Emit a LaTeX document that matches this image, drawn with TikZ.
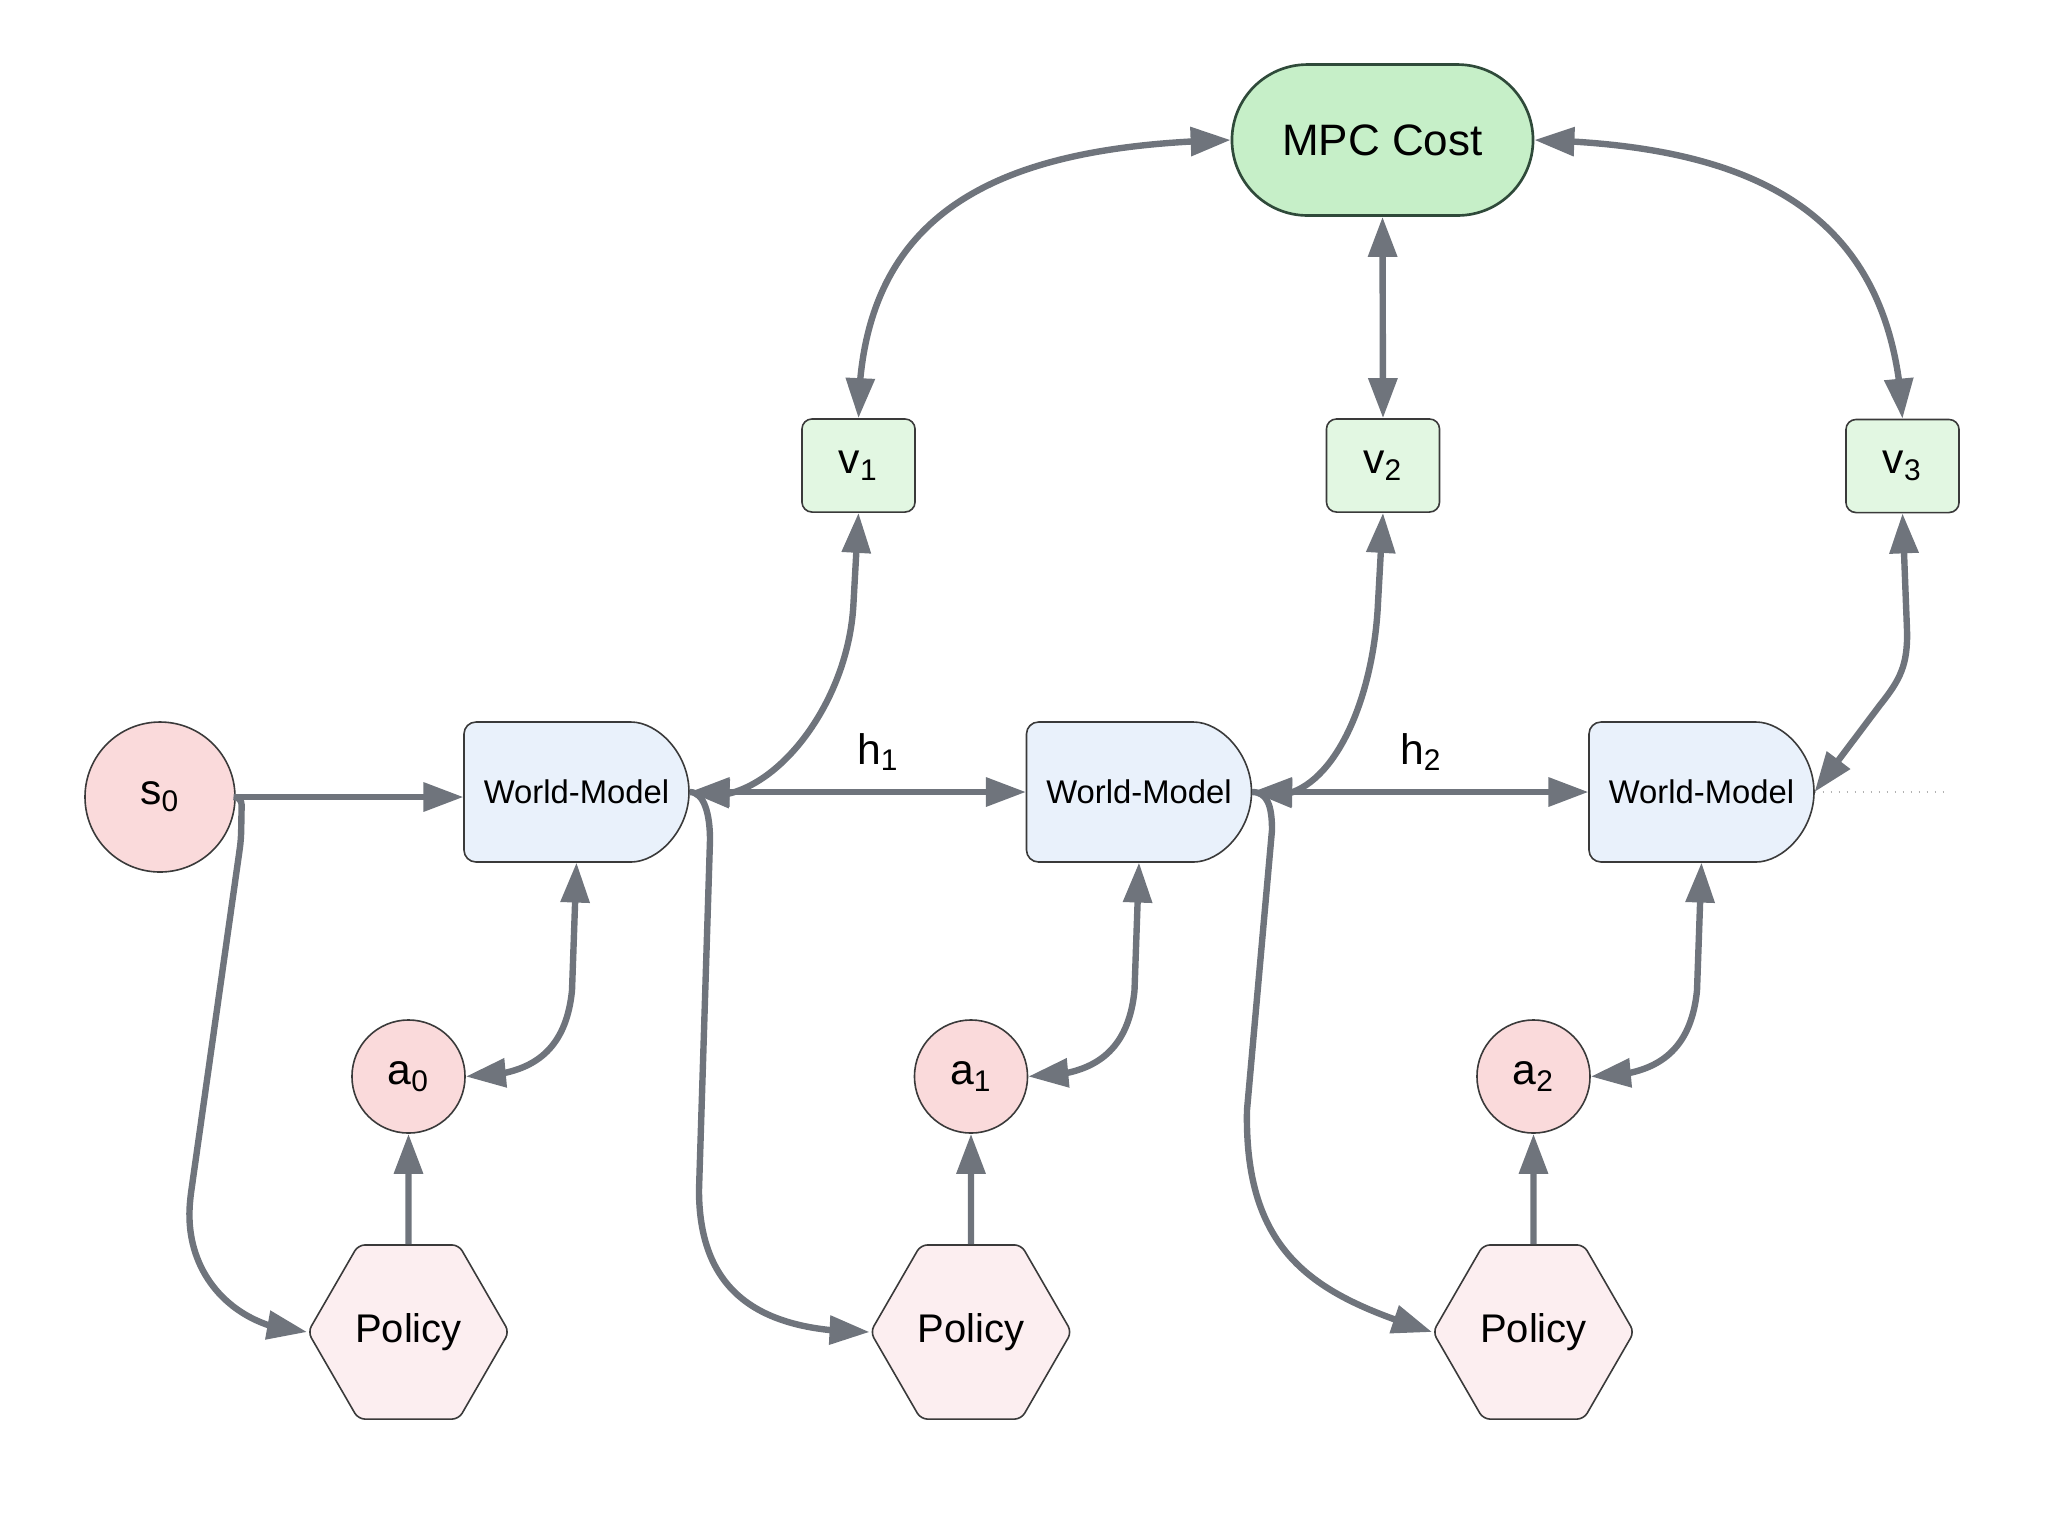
\documentclass[tikz,border=0pt]{standalone}
\usepackage{fontspec}
\setmainfont{Liberation Sans}
\usetikzlibrary{arrows.meta,bending,shapes.geometric,shapes.misc,calc}
\definecolor{arrowgray}{HTML}{6F747C}
\definecolor{edge}{HTML}{3A3A3A}
\definecolor{pinkA}{HTML}{FADADB}
\definecolor{pinkP}{HTML}{FCEEF0}
\definecolor{wmblue}{HTML}{E9F1FB}
\definecolor{vgreen}{HTML}{E2F7E2}
\definecolor{mpcgreen}{HTML}{C6EFC8}
\definecolor{mpcedge}{HTML}{2F4A3A}
\tikzset{
  >={Triangle[length=15pt,width=10.5pt]},
  arr/.style={draw=arrowgray, line width=2.4pt, ->},
  darr/.style={draw=arrowgray, line width=2.4pt, <->},
  statecirc/.style={circle, draw=edge, line width=0.6pt, fill=pinkA, inner sep=0pt, font=\fontsize{16}{18}\selectfont},
  policy/.style={regular polygon, regular polygon sides=6, minimum size=75.4pt, inner sep=0pt, draw=edge, line width=0.6pt, fill=pinkP, rounded corners=2.5pt, font=\fontsize{15}{18}\selectfont},
  vbox/.style={rectangle, rounded corners=3.75pt, draw=edge, line width=0.6pt, fill=vgreen, minimum width=42.4pt, minimum height=34.9pt, inner sep=0pt, font=\fontsize{16}{18}\selectfont},
  mpc/.style={rounded rectangle, draw=mpcedge, line width=1pt, fill=mpcgreen, minimum width=112.9pt, minimum height=56.6pt, inner sep=0pt, font=\fontsize{16.5}{20}\selectfont},
  wmshape/.style={draw=edge, line width=0.6pt, fill=wmblue, rounded corners=4.5pt},
  wmtext/.style={rectangle, minimum width=84.375pt, minimum height=52.5pt, inner sep=0pt, font=\fontsize{12.3}{14}\selectfont},
  lbl/.style={font=\fontsize{16}{18}\selectfont, inner sep=0pt},
  dotline/.style={draw=gray!60, line width=0.5pt, dash pattern=on 0.6pt off 2.4pt}
}
\newcommand\wmbox[3]{%
  \filldraw[wmshape] (#2-112.5,#3+70) -- (#2+42.5,#3+70) arc[start angle=90,end angle=-90,radius=26.25pt] -- (#2-112.5,#3-70) -- cycle;
  \node[wmtext] (#1) at (#2,#3) {World-Model};}
\begin{document}
\begin{tikzpicture}[x=0.375pt,y=0.375pt]
\useasboundingbox (0,0) rectangle (2066,-1513);
\wmbox{w1}{576.5}{-792}
\wmbox{w2}{1139}{-792}
\wmbox{w3}{1701.5}{-792}
\node[mpc] (mpc) at (1382.5,-140) {MPC Cost};
\node[vbox] (v1) at (858.5,-465.5) {v\textsubscript{1}};
\node[vbox] (v2) at (1383,-465.5) {v\textsubscript{2}};
\node[vbox] (v3) at (1902.5,-466) {v\textsubscript{3}};
\node[statecirc, minimum size=56.25pt] (s0) at (160,-797) {s\textsubscript{0}};
\foreach \i/\x in {0/408.5,1/971,2/1533.5} {
  \node[statecirc, minimum size=42.4pt] (a\i) at (\x,-1076.5) {a\textsubscript{\i}};
  \node[policy] (p\i) at (\x,-1332) {Policy};
}
\node[lbl] (h1) at (878,-752) {h\textsubscript{1}};
\node[lbl] (h2) at (1421,-752) {h\textsubscript{2}};
% connectors
\draw[arr] (s0.east) -- (s0.east -| w1.west);
\draw[arr, rounded corners=3pt] (s0.east) -- ++(6,0) -- (241,-840) -- (190,-1200) .. controls (186,-1280) and (240,-1330) .. (p0.west);
\foreach \i in {0,1,2} \draw[arr] (p\i.north) -- (a\i.south);
\foreach \i/\j in {0/1,1/2,2/3} \draw[darr] (w\j.south) -- ++(-4.5,-128) .. controls +(-7,-70) and +(55,0) .. (a\i.east);
\draw[darr] (w1.east) -- (w2.west);
\draw[darr] (w2.east) -- (w3.west);
\draw[darr] (v1.south) -- ++(-5,-90) .. controls +(-5,-110) and +(70,-25) .. (w1.east);
\draw[darr] (v2.south) -- ++(-5,-90) .. controls +(-5,-110) and +(70,-25) .. (w2.east);
\draw[darr] (v3.south) -- (1907,-630) .. controls (1908,-665) and (1900,-680) .. (1880,-705) -- (w3.east);
\draw[arr] (w1.east) .. controls +(15,0) and +(0,25) .. (710,-840) -- (699,-1190) .. controls +(0,-110) and +(-100,0) .. (p1.west);
\draw[arr] (w2.east) .. controls +(15,0) and +(0,25) .. (1272,-830) -- (1247,-1110) .. controls +(-3,-150) and +(-110,35) .. (p2.west);
\draw[darr] (mpc.west) .. controls +(-230,-5) and +(0,210) .. (v1.north);
\draw[darr] (mpc.east) .. controls +(230,-5) and +(-10,200) .. (v3.north);
\draw[darr] (mpc.south) -- (v2.north);
\coordinate (dotend) at (1950,-792);
\draw[dotline] (w3.east) -- (dotend);
\end{tikzpicture}
\end{document}
